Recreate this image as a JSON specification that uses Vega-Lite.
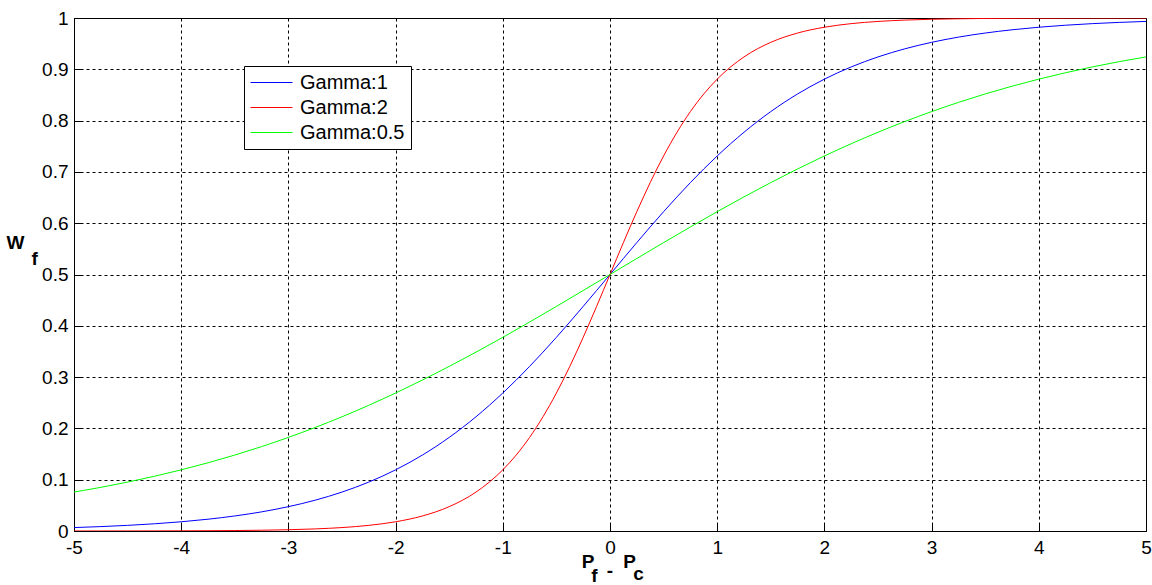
{
  "$schema": "https://vega.github.io/schema/vega-lite/v6.json",
  "width": 1072,
  "height": 513,
  "autosize": {"type": "none"},
  "padding": {"left": 74, "top": 18, "right": 6, "bottom": 54},
  "background": "white",
  "config": {
    "view": {"stroke": "black", "strokeWidth": 1},
    "font": "Liberation Sans",
    "axis": {
      "domainColor": "black",
      "tickColor": "black",
      "tickSize": -7,
      "labelColor": "black",
      "labelFont": "Liberation Sans",
      "labelFontSize": 19,
      "grid": true,
      "gridColor": "black",
      "gridDash": [3, 3],
      "gridOpacity": 1,
      "gridWidth": 1,
      "title": null
    },
    "legend": {
      "labelFontSize": 20,
      "labelFont": "Liberation Sans",
      "labelColor": "black"
    }
  },
  "layer": [
    {
      "data": {
        "values": [
          {"x": -5, "y": 0.00669, "s": "Gamma:1"}, {"x": -4.75, "y": 0.00858, "s": "Gamma:1"}, {"x": -4.5, "y": 0.01099, "s": "Gamma:1"}, {"x": -4.25, "y": 0.01406, "s": "Gamma:1"}, {"x": -4, "y": 0.01799, "s": "Gamma:1"}, {"x": -3.75, "y": 0.02298, "s": "Gamma:1"}, {"x": -3.5, "y": 0.02931, "s": "Gamma:1"}, {"x": -3.25, "y": 0.03731, "s": "Gamma:1"}, {"x": -3, "y": 0.04743, "s": "Gamma:1"}, {"x": -2.75, "y": 0.06009, "s": "Gamma:1"}, {"x": -2.5, "y": 0.07586, "s": "Gamma:1"}, {"x": -2.25, "y": 0.09535, "s": "Gamma:1"}, {"x": -2, "y": 0.1192, "s": "Gamma:1"}, {"x": -1.75, "y": 0.14805, "s": "Gamma:1"}, {"x": -1.5, "y": 0.18243, "s": "Gamma:1"}, {"x": -1.25, "y": 0.2227, "s": "Gamma:1"}, {"x": -1, "y": 0.26894, "s": "Gamma:1"}, {"x": -0.75, "y": 0.32082, "s": "Gamma:1"}, {"x": -0.5, "y": 0.37754, "s": "Gamma:1"}, {"x": -0.25, "y": 0.43782, "s": "Gamma:1"}, {"x": 0, "y": 0.5, "s": "Gamma:1"}, {"x": 0.25, "y": 0.56218, "s": "Gamma:1"}, {"x": 0.5, "y": 0.62246, "s": "Gamma:1"}, {"x": 0.75, "y": 0.67918, "s": "Gamma:1"}, {"x": 1, "y": 0.73106, "s": "Gamma:1"}, {"x": 1.25, "y": 0.7773, "s": "Gamma:1"}, {"x": 1.5, "y": 0.81757, "s": "Gamma:1"}, {"x": 1.75, "y": 0.85195, "s": "Gamma:1"}, {"x": 2, "y": 0.8808, "s": "Gamma:1"}, {"x": 2.25, "y": 0.90465, "s": "Gamma:1"}, {"x": 2.5, "y": 0.92414, "s": "Gamma:1"}, {"x": 2.75, "y": 0.93991, "s": "Gamma:1"}, {"x": 3, "y": 0.95257, "s": "Gamma:1"}, {"x": 3.25, "y": 0.96269, "s": "Gamma:1"}, {"x": 3.5, "y": 0.97069, "s": "Gamma:1"}, {"x": 3.75, "y": 0.97702, "s": "Gamma:1"}, {"x": 4, "y": 0.98201, "s": "Gamma:1"}, {"x": 4.25, "y": 0.98594, "s": "Gamma:1"}, {"x": 4.5, "y": 0.98901, "s": "Gamma:1"}, {"x": 4.75, "y": 0.99142, "s": "Gamma:1"}, {"x": 5, "y": 0.99331, "s": "Gamma:1"},
          {"x": -5, "y": 0.0000454, "s": "Gamma:2"}, {"x": -4.75, "y": 0.0000749, "s": "Gamma:2"}, {"x": -4.5, "y": 0.000123, "s": "Gamma:2"}, {"x": -4.25, "y": 0.000203, "s": "Gamma:2"}, {"x": -4, "y": 0.000335, "s": "Gamma:2"}, {"x": -3.75, "y": 0.000553, "s": "Gamma:2"}, {"x": -3.5, "y": 0.000911, "s": "Gamma:2"}, {"x": -3.25, "y": 0.001501, "s": "Gamma:2"}, {"x": -3, "y": 0.002473, "s": "Gamma:2"}, {"x": -2.75, "y": 0.00407, "s": "Gamma:2"}, {"x": -2.5, "y": 0.006693, "s": "Gamma:2"}, {"x": -2.25, "y": 0.010987, "s": "Gamma:2"}, {"x": -2, "y": 0.017986, "s": "Gamma:2"}, {"x": -1.75, "y": 0.029312, "s": "Gamma:2"}, {"x": -1.5, "y": 0.047426, "s": "Gamma:2"}, {"x": -1.25, "y": 0.075858, "s": "Gamma:2"}, {"x": -1, "y": 0.119203, "s": "Gamma:2"}, {"x": -0.875, "y": 0.148047, "s": "Gamma:2"}, {"x": -0.75, "y": 0.182426, "s": "Gamma:2"}, {"x": -0.625, "y": 0.2227, "s": "Gamma:2"}, {"x": -0.5, "y": 0.268941, "s": "Gamma:2"}, {"x": -0.375, "y": 0.320821, "s": "Gamma:2"}, {"x": -0.25, "y": 0.377541, "s": "Gamma:2"}, {"x": -0.125, "y": 0.437823, "s": "Gamma:2"}, {"x": 0, "y": 0.5, "s": "Gamma:2"}, {"x": 0.125, "y": 0.562177, "s": "Gamma:2"}, {"x": 0.25, "y": 0.622459, "s": "Gamma:2"}, {"x": 0.375, "y": 0.679179, "s": "Gamma:2"}, {"x": 0.5, "y": 0.731059, "s": "Gamma:2"}, {"x": 0.625, "y": 0.7773, "s": "Gamma:2"}, {"x": 0.75, "y": 0.817574, "s": "Gamma:2"}, {"x": 0.875, "y": 0.851953, "s": "Gamma:2"}, {"x": 1, "y": 0.880797, "s": "Gamma:2"}, {"x": 1.25, "y": 0.924142, "s": "Gamma:2"}, {"x": 1.5, "y": 0.952574, "s": "Gamma:2"}, {"x": 1.75, "y": 0.970688, "s": "Gamma:2"}, {"x": 2, "y": 0.982014, "s": "Gamma:2"}, {"x": 2.25, "y": 0.989013, "s": "Gamma:2"}, {"x": 2.5, "y": 0.993307, "s": "Gamma:2"}, {"x": 2.75, "y": 0.99593, "s": "Gamma:2"}, {"x": 3, "y": 0.997527, "s": "Gamma:2"}, {"x": 3.25, "y": 0.998499, "s": "Gamma:2"}, {"x": 3.5, "y": 0.999089, "s": "Gamma:2"}, {"x": 3.75, "y": 0.999447, "s": "Gamma:2"}, {"x": 4, "y": 0.999665, "s": "Gamma:2"}, {"x": 4.25, "y": 0.999797, "s": "Gamma:2"}, {"x": 4.5, "y": 0.999877, "s": "Gamma:2"}, {"x": 4.75, "y": 0.999925, "s": "Gamma:2"}, {"x": 5, "y": 0.999955, "s": "Gamma:2"},
          {"x": -5, "y": 0.07586, "s": "Gamma:0.5"}, {"x": -4.75, "y": 0.0851, "s": "Gamma:0.5"}, {"x": -4.5, "y": 0.09535, "s": "Gamma:0.5"}, {"x": -4.25, "y": 0.10669, "s": "Gamma:0.5"}, {"x": -4, "y": 0.1192, "s": "Gamma:0.5"}, {"x": -3.75, "y": 0.13296, "s": "Gamma:0.5"}, {"x": -3.5, "y": 0.14805, "s": "Gamma:0.5"}, {"x": -3.25, "y": 0.16452, "s": "Gamma:0.5"}, {"x": -3, "y": 0.18243, "s": "Gamma:0.5"}, {"x": -2.75, "y": 0.20181, "s": "Gamma:0.5"}, {"x": -2.5, "y": 0.2227, "s": "Gamma:0.5"}, {"x": -2.25, "y": 0.24508, "s": "Gamma:0.5"}, {"x": -2, "y": 0.26894, "s": "Gamma:0.5"}, {"x": -1.75, "y": 0.29421, "s": "Gamma:0.5"}, {"x": -1.5, "y": 0.32082, "s": "Gamma:0.5"}, {"x": -1.25, "y": 0.34865, "s": "Gamma:0.5"}, {"x": -1, "y": 0.37754, "s": "Gamma:0.5"}, {"x": -0.75, "y": 0.40733, "s": "Gamma:0.5"}, {"x": -0.5, "y": 0.43782, "s": "Gamma:0.5"}, {"x": -0.25, "y": 0.46879, "s": "Gamma:0.5"}, {"x": 0, "y": 0.5, "s": "Gamma:0.5"}, {"x": 0.25, "y": 0.53121, "s": "Gamma:0.5"}, {"x": 0.5, "y": 0.56218, "s": "Gamma:0.5"}, {"x": 0.75, "y": 0.59267, "s": "Gamma:0.5"}, {"x": 1, "y": 0.62246, "s": "Gamma:0.5"}, {"x": 1.25, "y": 0.65135, "s": "Gamma:0.5"}, {"x": 1.5, "y": 0.67918, "s": "Gamma:0.5"}, {"x": 1.75, "y": 0.70579, "s": "Gamma:0.5"}, {"x": 2, "y": 0.73106, "s": "Gamma:0.5"}, {"x": 2.25, "y": 0.75492, "s": "Gamma:0.5"}, {"x": 2.5, "y": 0.7773, "s": "Gamma:0.5"}, {"x": 2.75, "y": 0.79819, "s": "Gamma:0.5"}, {"x": 3, "y": 0.81757, "s": "Gamma:0.5"}, {"x": 3.25, "y": 0.83548, "s": "Gamma:0.5"}, {"x": 3.5, "y": 0.85195, "s": "Gamma:0.5"}, {"x": 3.75, "y": 0.86704, "s": "Gamma:0.5"}, {"x": 4, "y": 0.8808, "s": "Gamma:0.5"}, {"x": 4.25, "y": 0.89331, "s": "Gamma:0.5"}, {"x": 4.5, "y": 0.90465, "s": "Gamma:0.5"}, {"x": 4.75, "y": 0.9149, "s": "Gamma:0.5"}, {"x": 5, "y": 0.92414, "s": "Gamma:0.5"}
        ]
      },
      "mark": {"type": "line", "strokeWidth": 1, "interpolate": "monotone", "clip": true},
      "encoding": {
        "x": {"field": "x", "type": "quantitative", "scale": {"domain": [-5, 5], "nice": false, "zero": false}, "axis": {"values": [-5, -4, -3, -2, -1, 0, 1, 2, 3, 4, 5], "labelExpr": "'' + datum.value", "labelFontSize": 19, "labelPadding": 14, "labelFlush": false}},
        "y": {"field": "y", "type": "quantitative", "scale": {"domain": [0, 1], "nice": false}, "axis": {"values": [0, 0.1, 0.2, 0.3, 0.4, 0.5, 0.6, 0.7, 0.8, 0.9, 1], "labelExpr": "'' + datum.value", "labelFontSize": 19, "labelPadding": 13, "labelFlush": false}},
        "color": {
          "field": "s",
          "type": "nominal",
          "scale": {"domain": ["Gamma:1", "Gamma:2", "Gamma:0.5"], "range": ["#0000ff", "#ff0000", "#00ff00"]},
          "legend": {
            "title": null,
            "orient": "none",
            "legendX": 170,
            "legendY": 48,
            "strokeColor": "black",
            "fillColor": "white",
            "padding": 6,
            "symbolType": "M-1,0H3.2",
            "symbolSize": 400,
            "symbolStrokeWidth": 1,
            "symbolFillColor": "transparent",
            "labelFontSize": 20,
            "labelFont": "Liberation Sans",
            "labelColor": "black",
            "labelOffset": 29,
            "rowPadding": 4
          }
        },
        "detail": {"field": "s"}
      }
    },
    {
      "data": {
        "values": [
          {"x": -5.546, "y": 0.5497, "t": "W"},
          {"x": -5.368, "y": 0.5185, "t": "f"},
          {"x": -0.2052, "y": -0.0721, "t": "P"},
          {"x": -0.1446, "y": -0.0994, "t": "f"},
          {"x": 0.0, "y": -0.0906, "t": "-"},
          {"x": 0.1819, "y": -0.0721, "t": "P"},
          {"x": 0.2659, "y": -0.0955, "t": "c"}
        ]
      },
      "mark": {"type": "text", "font": "Liberation Sans", "fontWeight": "bold", "fontSize": 19, "align": "center", "baseline": "alphabetic", "color": "black"},
      "encoding": {
        "x": {"field": "x", "type": "quantitative"},
        "y": {"field": "y", "type": "quantitative"},
        "text": {"field": "t"}
      }
    }
  ]
}
